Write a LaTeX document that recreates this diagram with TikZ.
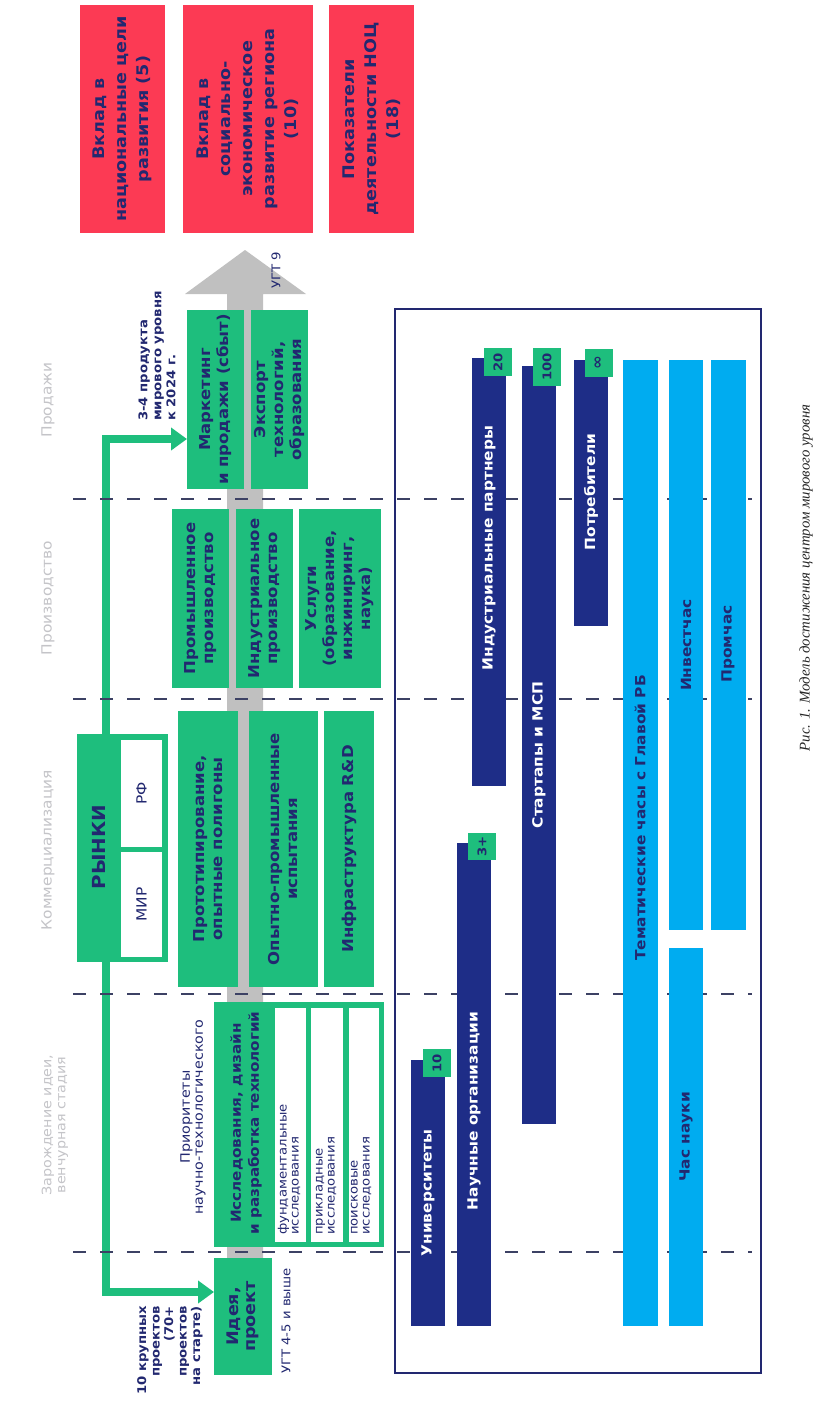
\documentclass[tikz,border=0pt]{standalone}
\usepackage{fontspec}
\setmainfont{DejaVu Sans}[FakeStretch=1.1]
\newfontfamily\capfont{Liberation Serif}
\usetikzlibrary{arrows.meta,fit,calc,backgrounds}
\definecolor{cgreen}{RGB}{30,190,125}
\definecolor{cred}{RGB}{252,58,84}
\definecolor{cnavy}{RGB}{34,40,112}
\definecolor{cbar}{RGB}{30,45,135}
\definecolor{cblue}{RGB}{0,172,240}
\definecolor{cgray}{RGB}{192,192,192}
\definecolor{cstage}{RGB}{196,196,200}
\definecolor{cdash}{RGB}{60,65,100}
\newcommand{\fsz}[2]{\fontsize{#1}{#2}\selectfont}
\begin{document}
\begin{tikzpicture}[x=1pt,y=-1pt,
  box/.style={inner sep=0pt, outer sep=0pt, draw=none},
  grn/.style={box, fill=cgreen},
  redb/.style={box, fill=cred},
  wht/.style={box, fill=white},
  nbar/.style={box, fill=cbar},
  lbar/.style={box, fill=cblue},
  badge/.style={box, fill=cgreen},
  rtxt/.style={rotate=90, inner sep=0pt, align=center, text=cnavy},
  boxtxt/.style={rtxt, font=\bfseries\fsz{15}{18}},
  redtxt/.style={rtxt, font=\bfseries\fsz{16}{22}},
  bartxt/.style={rtxt, text=white, font=\bfseries\fsz{14}{16}},
  lbartxt/.style={rtxt, text=cnavy, font=\bfseries\fsz{14}{16}},
  badgetxt/.style={rtxt, font=\bfseries\fsz{12}{14}},
  stagetxt/.style={rtxt, text=cstage, font=\fsz{14}{14}},
  smalltxt/.style={rtxt, font=\fsz{12}{12}},
  dashln/.style={draw=cdash, line width=1.8pt, dash pattern=on 13pt off 14pt},
  gline/.style={draw=cgreen, line width=8pt, line join=miter,
     {Triangle[length=16pt,width=22pt]}-{Triangle[length=16pt,width=22pt]}},
]
\useasboundingbox (0,0) rectangle (818,1405);

% red result boxes
\node[redb, fit={(80,5)(165,233)}] (r1) {};
\node[redtxt] (r1t) at (r1) {Вклад в\\национальные цели\\развития (5)};
\node[redb, fit={(183,5)(313,233)}] (r2) {};
\node[redtxt] (r2t) at (r2) {Вклад в\\социально-\\экономическое\\развитие региона\\(10)};
\node[redb, fit={(329,5)(414,233)}] (r3) {};
\node[redtxt] (r3t) at (r3) {Показатели\\деятельности НОЦ\\(18)};

\node[smalltxt] (ugt9) at (276,270) {УГТ 9};

% sales
\node[grn, fit={(187,310)(244,489)}] (mkt) {};
\node[boxtxt] (mktt) at (mkt) {Маркетинг\\и продажи (сбыт)};
\node[grn, fit={(251,310)(308,489)}] (exp) {};
\node[boxtxt] (expt) at (exp) {Экспорт\\технологий,\\образования};

% production
\node[grn, fit={(172,509)(229,688)}] (prom) {};
\node[boxtxt] (promt) at (prom) {Промышленное\\производство};
\node[grn, fit={(236,509)(293,688)}] (indp) {};
\node[boxtxt] (indpt) at (indp) {Индустриальное\\производство};
\node[grn, fit={(299,509)(381,688)}] (usl) {};
\node[boxtxt] (uslt) at (usl) {Услуги\\(образование,\\инжиниринг,\\наука)};

% commercialisation
\node[grn, fit={(178,711)(238,987)}] (proto) {};
\node[boxtxt] (protot) at (proto) {Прототипирование,\\опытные полигоны};
\node[grn, fit={(249,711)(318,987)}] (opyt) {};
\node[boxtxt] (opytt) at (opyt) {Опытно-промышленные\\испытания};
\node[grn, fit={(324,711)(374,987)}] (infra) {};
\node[boxtxt] (infrat) at (infra) {Инфраструктура R\&D};

\node[grn, fit={(77,734)(168,962)}] (rynki) {};
\node[wht, fit={(121,740)(162,847)}] (rf) {};
\node[wht, fit={(121,852)(162,957)}] (mir) {};
\node[rtxt, font=\bfseries\fsz{18}{18}] (rynkit) at (99,847) {РЫНКИ};
\node[rtxt, font=\fsz{14}{14}] (rft) at (rf) {РФ};
\node[rtxt, font=\fsz{14}{14}] (mirt) at (mir) {МИР};

% research
\node[grn, fit={(214,1002)(384,1247)}] (res) {};
\node[wht, fit={(275,1008)(306,1242)}] (f1) {};
\node[wht, fit={(311,1008)(343,1242)}] (f2) {};
\node[wht, fit={(349,1008)(379,1242)}] (f3) {};
\node[boxtxt, font=\bfseries\fsz{13.8}{18}] (rest) at (246,1123) {Исследования, дизайн\\и разработка технологий};
\node[smalltxt, anchor=west, align=left] (f1t) at (289,1235) {фундаментальные\\исследования};
\node[smalltxt, anchor=west, align=left] (f2t) at (326,1235) {прикладные\\исследования};
\node[smalltxt, anchor=west, align=left] (f3t) at (361,1235) {поисковые\\исследования};
\node[smalltxt, font=\fsz{13}{13}] (prio) at (193,1117) {Приоритеты\\научно-технологического};

% idea
\node[grn, fit={(214,1258)(272,1375)}] (idea) {};
\node[boxtxt, font=\bfseries\fsz{16}{17}] (ideat) at (idea) {Идея,\\проект};
\node[smalltxt, anchor=west] (ugt45) at (286,1374) {УГТ 4-5 и выше};

\node[rtxt, font=\bfseries\fsz{12}{14}, anchor=west, align=left] (prod34) at (157,421) {3-4 продукта\\мирового уровня\\к 2024 г.};
\node[rtxt, font=\bfseries\fsz{12}{13.5}, anchor=east, align=right] (proj10) at (170,1306) {10 крупных\\проектов\\(70+\\проектов\\на старте)};

% stage labels
\node[stagetxt] (s1) at (48,400) {Продажи};
\node[stagetxt] (s2) at (48,598) {Производство};
\node[stagetxt] (s3) at (48,850) {Коммерциализация};
\node[stagetxt, font=\fsz{13}{14}] (s4) at (55,1125) {Зарождение идеи,\\венчурная стадия};

% participants frame
\node[box, draw=cnavy, line width=1.2pt, fit={(395,309)(761,1373)}] (frame) {};

\node[nbar, fit={(472,358)(506,786)}] (bind) {};
\node[badge, fit={(484,348)(512,376)}] (b20) {};
\node[badgetxt] (b20t) at (b20) {20};
\node[bartxt] (bindt) at (489,548) {Индустриальные партнеры};

\node[nbar, fit={(522,366)(556,1124)}] (bst) {};
\node[badge, fit={(533,348)(561,386)}] (b100) {};
\node[badgetxt] (b100t) at (b100) {100};
\node[bartxt] (bstt) at (539,755) {Стартапы и МСП};

\node[nbar, fit={(574,360)(608,626)}] (bcons) {};
\node[badge, fit={(585,349)(613,377)}] (binf) {};
\node[badgetxt, font=\bfseries\fsz{15}{15}] (binft) at (binf) {∞};
\node[bartxt] (bconst) at (591,492) {Потребители};

\node[lbar, fit={(623,360)(658,1326)}] (bthem) {};
\node[lbartxt] (bthemt) at (640,818) {Тематические часы с Главой РБ};
\node[lbar, fit={(669,360)(703,930)}] (binv) {};
\node[lbartxt] (binvt) at (686,645) {Инвестчас};
\node[lbar, fit={(711,360)(746,930)}] (bprom) {};
\node[lbartxt] (bpromt) at (728,644) {Промчас};
\node[lbar, fit={(669,948)(703,1326)}] (bchas) {};
\node[lbartxt] (bchast) at (686,1137) {Час науки};

\node[nbar, fit={(411,1060)(445,1326)}] (buni) {};
\node[badge, fit={(423,1049)(451,1077)}] (b10) {};
\node[badgetxt] (b10t) at (b10) {10};
\node[bartxt] (bunit) at (428,1193) {Университеты};

\node[nbar, fit={(457,843)(491,1326)}] (bsci) {};
\node[badge, fit={(468,833)(496,860)}] (b3) {};
\node[badgetxt] (b3t) at (b3) {3+};
\node[bartxt] (bscit) at (474,1111) {Научные организации};

% caption
\node[rtxt, text=black!85, font=\capfont\itshape\fsz{14.8}{16}] (cap) at (806,578) {Рис. 1. Модель достижения центром мирового уровня};

\begin{scope}[on background layer]
  \fill[white] (0,0) rectangle (818,1405);
  \fill[cgray] (227,1258) -- (227,294) -- (185,294) -- (245,250) -- (306,294) -- (263,294) -- (263,1258) -- cycle;
  \coordinate (ctop) at (106,439);
  \coordinate (cbot) at (106,1292);
  \draw[gline] (mkt.west |- ctop) -- (ctop) -- (cbot) -- (idea.west |- cbot);
  \foreach \yy in {499,699,994,1252} \draw[dashln] (73,\yy) -- (752,\yy);
\end{scope}
\end{tikzpicture}
\end{document}
